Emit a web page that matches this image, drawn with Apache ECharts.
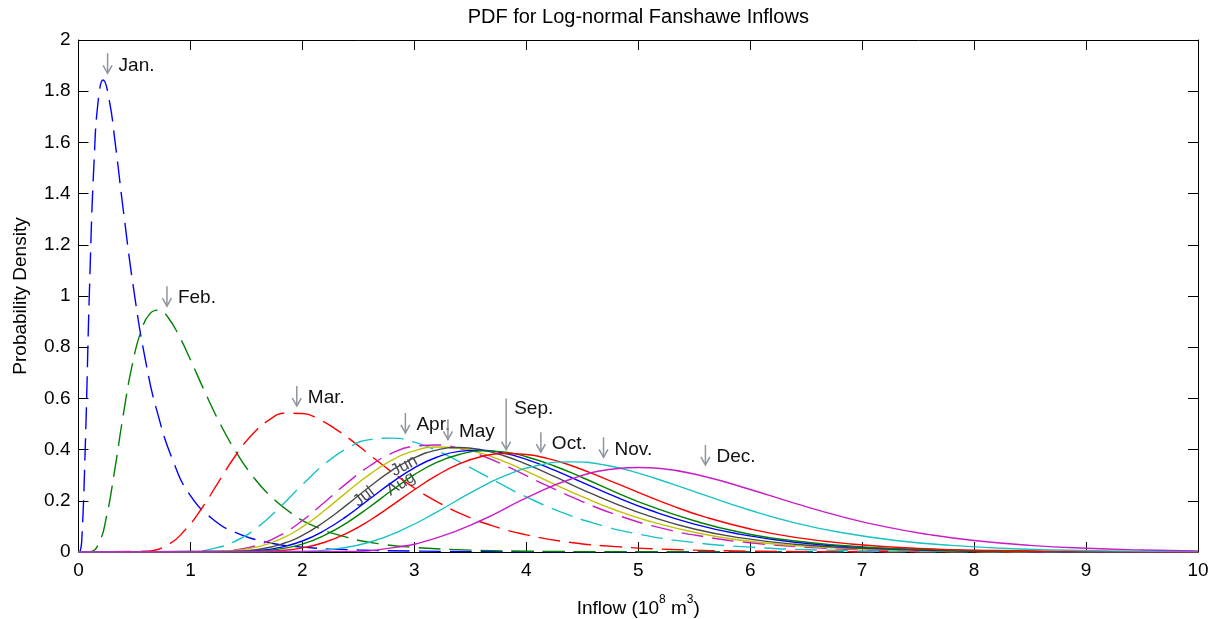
<!DOCTYPE html>
<html>
<head>
<meta charset="utf-8">
<title>PDF for Log-normal Fanshawe Inflows</title>
<script src="https://cdn.jsdelivr.net/npm/echarts@6/dist/echarts.min.js"></script>
<style>
  html, body { margin: 0; padding: 0; background: #ffffff; }
  #chart { width: 1217px; height: 619px; }
</style>
</head>
<body>
<div id="chart"></div>
<script>
// Monthly log-normal inflow densities, as [inflow (10^8 m^3), probability density] pairs.
const jan = [[0,0],[0.015,0.003],[0.03,0.052],[0.06,0.403],[0.1,1.053],[0.14,1.534],[0.18,1.778],[0.22,1.844],[0.27,1.776],[0.33,1.59],[0.4,1.336],[0.5,1.005],[0.6,0.745],[0.7,0.552],[0.85,0.35],[1.0,0.22],[1.2,0.128],[1.4,0.077],[1.7,0.037],[2.0,0.019],[2.5,0.008],[3,0.0035],[4,0.001],[5,0.0003],[10,0]];
const feb = [[0,0],[0.1,0.001],[0.18,0.033],[0.25,0.138],[0.32,0.311],[0.4,0.536],[0.48,0.731],[0.56,0.864],[0.64,0.932],[0.72,0.945],[0.8,0.916],[0.9,0.843],[1.0,0.751],[1.12,0.634],[1.25,0.514],[1.4,0.396],[1.55,0.3],[1.7,0.225],[1.9,0.152],[2.1,0.102],[2.4,0.057],[2.7,0.031],[3.0,0.018],[3.5,0.0075],[4,0.0032],[5,0.0008],[10,0]];
const mar = [[0,0],[0.6,0.003],[0.8,0.029],[0.95,0.085],[1.1,0.17],[1.25,0.273],[1.4,0.375],[1.55,0.458],[1.7,0.515],[1.85,0.542],[2.0,0.541],[2.15,0.518],[2.3,0.479],[2.45,0.432],[2.6,0.38],[2.8,0.312],[3.0,0.25],[3.2,0.197],[3.45,0.143],[3.7,0.102],[4.0,0.067],[4.4,0.037],[4.8,0.021],[5.3,0.01],[6,0.0034],[7,0.0008],[10,0]];
const apr = [[0,0],[1.0,0.002],[1.2,0.013],[1.4,0.042],[1.6,0.097],[1.8,0.175],[2.0,0.263],[2.2,0.344],[2.4,0.405],[2.6,0.439],[2.8,0.445],[3.0,0.429],[3.2,0.396],[3.4,0.353],[3.6,0.306],[3.8,0.259],[4.0,0.215],[4.3,0.158],[4.6,0.113],[5.0,0.07],[5.5,0.037],[6.0,0.019],[6.6,0.008],[7.5,0.0024],[10,0]];
const may = [[0,0],[1.2,0.002],[1.4,0.008],[1.6,0.027],[1.8,0.065],[2.0,0.123],[2.2,0.195],[2.4,0.27],[2.6,0.336],[2.8,0.386],[3.0,0.413],[3.2,0.418],[3.4,0.405],[3.6,0.377],[3.8,0.34],[4.0,0.298],[4.2,0.256],[4.5,0.197],[4.8,0.146],[5.2,0.094],[5.6,0.059],[6.0,0.036],[6.6,0.016],[7.2,0.007],[8,0.0024],[10,0]];
const jun = [[0,0],[1.2,0.001],[1.4,0.006],[1.6,0.02],[1.8,0.049],[2.0,0.098],[2.2,0.163],[2.4,0.235],[2.6,0.303],[2.8,0.359],[3.0,0.395],[3.2,0.41],[3.4,0.405],[3.6,0.385],[3.8,0.354],[4.0,0.316],[4.25,0.265],[4.5,0.216],[4.8,0.163],[5.1,0.12],[5.5,0.077],[5.9,0.047],[6.4,0.025],[7.0,0.012],[7.8,0.004],[8.6,0.0013],[10,0]];
const jul = [[0,0],[1.4,0.002],[1.6,0.01],[1.8,0.029],[2.0,0.065],[2.2,0.119],[2.4,0.185],[2.6,0.255],[2.8,0.319],[3.0,0.368],[3.2,0.398],[3.4,0.408],[3.6,0.399],[3.8,0.376],[4.0,0.343],[4.25,0.295],[4.5,0.244],[4.8,0.188],[5.1,0.14],[5.5,0.09],[5.9,0.056],[6.4,0.03],[7.0,0.014],[7.8,0.0046],[8.6,0.0015],[10,0]];
const aug = [[0,0],[1.4,0.001],[1.6,0.005],[1.8,0.018],[2.0,0.043],[2.2,0.085],[2.4,0.141],[2.6,0.207],[2.8,0.272],[3.0,0.329],[3.2,0.37],[3.4,0.393],[3.6,0.398],[3.8,0.386],[4.0,0.362],[4.25,0.32],[4.5,0.272],[4.8,0.215],[5.1,0.164],[5.5,0.109],[5.9,0.07],[6.4,0.038],[7.0,0.018],[7.8,0.006],[8.6,0.002],[10,0]];
const sep = [[0,0],[1.6,0.003],[1.8,0.012],[2.0,0.031],[2.2,0.066],[2.4,0.115],[2.6,0.176],[2.8,0.241],[3.0,0.302],[3.2,0.35],[3.4,0.381],[3.6,0.395],[3.8,0.391],[4.0,0.372],[4.25,0.336],[4.5,0.291],[4.8,0.233],[5.1,0.18],[5.5,0.122],[5.9,0.078],[6.4,0.043],[7.0,0.02],[7.8,0.007],[8.6,0.0023],[10,0]];
const oct = [[0,0],[1.6,0.001],[1.8,0.005],[2.0,0.016],[2.2,0.038],[2.4,0.074],[2.6,0.123],[2.8,0.182],[3.0,0.243],[3.2,0.299],[3.4,0.344],[3.6,0.373],[3.8,0.385],[4.0,0.381],[4.2,0.364],[4.4,0.338],[4.7,0.287],[5.0,0.233],[5.3,0.181],[5.6,0.136],[6.0,0.09],[6.4,0.057],[6.9,0.031],[7.5,0.014],[8.2,0.0056],[9,0.0019],[10,0]];
const nov = [[0,0],[2.0,0.002],[2.3,0.012],[2.6,0.038],[2.9,0.088],[3.2,0.156],[3.5,0.231],[3.8,0.296],[4.1,0.338],[4.4,0.352],[4.7,0.34],[5.0,0.308],[5.3,0.266],[5.6,0.221],[6.0,0.163],[6.4,0.114],[6.8,0.077],[7.3,0.045],[7.8,0.026],[8.4,0.012],[9.2,0.0045],[10,0.0016]];
const dec = [[0,0],[2.4,0.0025],[2.8,0.016],[3.2,0.055],[3.6,0.124],[4.0,0.211],[4.4,0.285],[4.8,0.325],[5.0,0.33],[5.2,0.326],[5.6,0.294],[6.0,0.244],[6.4,0.19],[6.8,0.14],[7.2,0.099],[7.6,0.068],[8.0,0.045],[8.5,0.026],[9.0,0.0145],[9.5,0.008],[10,0.0043]];

// Month tags: text and the inflow/density point each arrow tip points at.
const monthTags = [
  { text: 'Jan.', x: 0.26, y: 1.87 },
  { text: 'Feb.', x: 0.79, y: 0.96 },
  { text: 'Mar.', x: 1.95, y: 0.57 },
  { text: 'Apr.', x: 2.92, y: 0.465 },
  { text: 'May', x: 3.30, y: 0.44 },
  { text: 'Sep.', x: 3.82, y: 0.40, long: true },
  { text: 'Oct.', x: 4.13, y: 0.39 },
  { text: 'Nov.', x: 4.69, y: 0.37 },
  { text: 'Dec.', x: 5.60, y: 0.34 }
];
// Tags written along the Jun / Jul / Aug curves (centre point, slope in degrees).
const curveTags = [
  { text: 'Jun', x: 2.91, y: 0.336, angle: 28 },
  { text: 'Jul', x: 2.55, y: 0.215, angle: 38 },
  { text: 'Aug', x: 2.88, y: 0.266, angle: 32 }
];

const FONT = '"Liberation Sans", Arial, Helvetica, sans-serif';
const ARROW = '#8e959c';

// MATLAB-style colour order: dashed for Jan–May, solid for Jun–Dec.
const curves = [
  { name: 'Jan', data: jan, color: '#0000ff', dashed: true },
  { name: 'Feb', data: feb, color: '#008000', dashed: true },
  { name: 'Mar', data: mar, color: '#ff0000', dashed: true },
  { name: 'Apr', data: apr, color: '#17c3c3', dashed: true },
  { name: 'May', data: may, color: '#c81ec8', dashed: true },
  { name: 'Jun', data: jun, color: '#c2c200', dashed: false },
  { name: 'Jul', data: jul, color: '#4a4a4a', dashed: false },
  { name: 'Aug', data: aug, color: '#0000ff', dashed: false },
  { name: 'Sep', data: sep, color: '#008000', dashed: false },
  { name: 'Oct', data: oct, color: '#ff0000', dashed: false },
  { name: 'Nov', data: nov, color: '#17c3c3', dashed: false },
  { name: 'Dec', data: dec, color: '#c81ec8', dashed: false }
];

const chart = echarts.init(document.getElementById('chart'), null, { renderer: 'canvas' });

function boxAxis(position, withLabels, isX) {
  return {
    type: 'value',
    position: position,
    min: 0,
    max: isX ? 10 : 2,
    interval: isX ? 1 : 0.2,
    axisLine: { show: true, onZero: false, lineStyle: { color: '#000', width: 1 } },
    axisTick: { show: true, inside: true, length: 10, lineStyle: { color: '#000', width: 1 } },
    axisLabel: {
      show: withLabels,
      color: '#000',
      fontFamily: FONT,
      fontSize: 19,
      margin: isX ? 9 : 8
    },
    splitLine: { show: false }
  };
}

chart.setOption({
  animation: false,
  backgroundColor: '#ffffff',
  grid: { left: 78.5, right: 19, top: 40, bottom: 67, containLabel: false },
  xAxis: [boxAxis('bottom', true, true), boxAxis('top', false, true)],
  yAxis: [boxAxis('left', true, false), boxAxis('right', false, false)],
  series: curves.map(c => ({
    type: 'line',
    name: c.name,
    data: c.data,
    xAxisIndex: 0,
    yAxisIndex: 0,
    symbol: 'none',
    smooth: 0.5,
    silent: true,
    z: 3,
    lineStyle: { color: c.color, width: 1.4, type: c.dashed ? [22, 9] : 'solid' }
  }))
});

// Title, axis titles and the month annotations, placed through the axis scales.
const toPx = p => chart.convertToPixel({ xAxisIndex: 0, yAxisIndex: 0 }, p);
const graphics = [];
const midX = toPx([5, 0])[0];
const midY = toPx([0, 1])[1];

graphics.push({
  type: 'text', x: midX, y: 17,
  style: { text: 'PDF for Log-normal Fanshawe Inflows', fill: '#000', fontFamily: FONT, fontSize: 20, align: 'center', verticalAlign: 'middle' }
});
graphics.push({
  type: 'text', x: midX, y: 606,
  style: {
    text: '{n|Inflow (10}{s|8}{n| m}{s|3}{n|)}',
    align: 'center', verticalAlign: 'middle',
    rich: {
      n: { fontFamily: FONT, fontSize: 19, fill: '#000', lineHeight: 24, verticalAlign: 'bottom' },
      s: { fontFamily: FONT, fontSize: 12, fill: '#000', lineHeight: 24, verticalAlign: 'top' }
    }
  }
});
graphics.push({
  type: 'text', x: 21, y: midY, rotation: Math.PI / 2,
  style: { text: 'Probability Density', fill: '#000', fontFamily: FONT, fontSize: 19, align: 'center', verticalAlign: 'middle' }
});

monthTags.forEach(t => {
  const [tx, ty] = toPx([t.x, t.y]);
  const len = t.long ? 51 : 20;
  graphics.push({
    type: 'polyline', silent: true,
    shape: { points: [[tx, ty - len], [tx, ty]] },
    style: { stroke: ARROW, lineWidth: 1.5, fill: null }
  });
  graphics.push({
    type: 'polyline', silent: true,
    shape: { points: [[tx - 4.5, ty - 8], [tx, ty], [tx + 4.5, ty - 8]] },
    style: { stroke: ARROW, lineWidth: 1.5, fill: null }
  });
  graphics.push({
    type: 'text', silent: true,
    x: t.long ? tx + 8 : tx + 11,
    y: t.long ? ty - 41 : ty - 8,
    style: { text: t.text, fill: '#111', fontFamily: FONT, fontSize: 19, align: 'left', verticalAlign: 'middle' }
  });
});

curveTags.forEach(t => {
  const [cx, cy] = toPx([t.x, t.y]);
  graphics.push({
    type: 'text', silent: true, x: cx, y: cy, rotation: t.angle * Math.PI / 180,
    style: { text: t.text, fill: '#4b4b55', fontFamily: FONT, fontSize: 17, align: 'center', verticalAlign: 'middle',
             stroke: 'rgba(255,255,255,0.6)', lineWidth: 2 }
  });
});

chart.setOption({ graphic: graphics });
</script>
</body>
</html>
